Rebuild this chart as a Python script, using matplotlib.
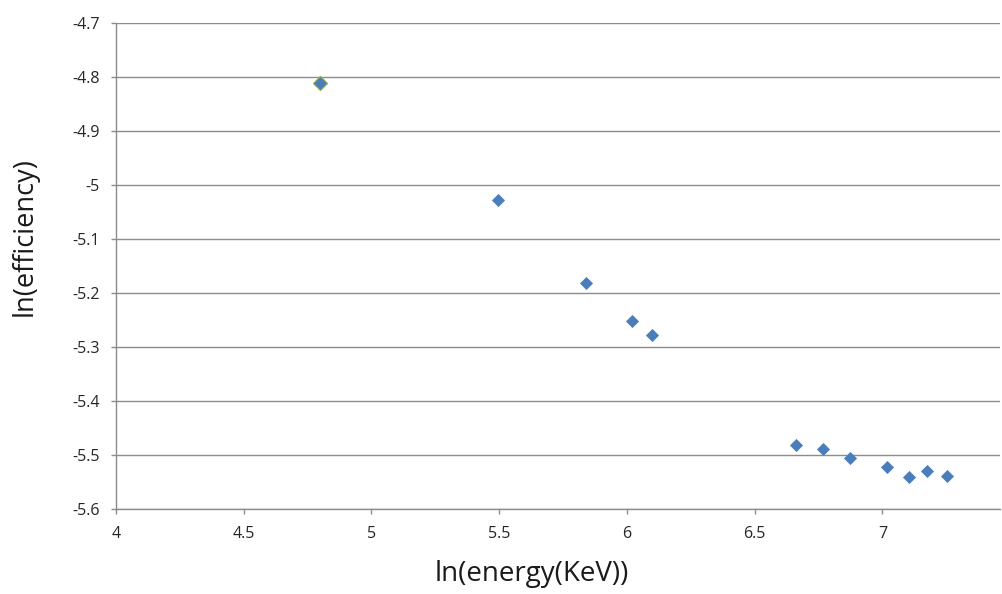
import matplotlib
matplotlib.use("Agg")
import matplotlib.pyplot as plt

# Data
ln_energy = [4.798, 5.494, 5.839, 6.019, 6.097, 6.660, 6.767, 6.873, 7.016, 7.104, 7.174, 7.254]
ln_eff = [-4.811, -5.028, -5.181, -5.252, -5.278, -5.481, -5.488, -5.505, -5.523, -5.541, -5.530, -5.538]

# second (hidden) series showing as a green outline under the first point
ln_energy_2 = [4.798]
ln_eff_2 = [-4.811]

x_ticks = [4, 4.5, 5, 5.5, 6, 6.5, 7]
x_tick_labels = ["4", "4.5", "5", "5.5", "6", "6.5", "7"]
y_ticks = [-5.6, -5.5, -5.4, -5.3, -5.2, -5.1, -5.0, -4.9, -4.8, -4.7]
y_tick_labels = ["-5.6", "-5.5", "-5.4", "-5.3", "-5.2", "-5.1", "-5", "-4.9", "-4.8", "-4.7"]

plt.rcParams['font.family'] = ['Open Sans', 'DejaVu Sans']

W, H = 1003, 594
fig = plt.figure(figsize=(W / 100, H / 100), dpi=100)
L, R, T, B = 116, 1000, 23, 509
ax = fig.add_axes([L / W, 1 - B / H, (R - L) / W, (B - T) / H])

grid_col = '#8c8c8c'
ax.set_xlim(4, 7.46)
ax.set_ylim(-5.6, -4.7)
ax.set_xticks(x_ticks)
ax.set_xticklabels(x_tick_labels)
ax.set_yticks(y_ticks)
ax.set_yticklabels(y_tick_labels)
ax.yaxis.grid(True, color=grid_col, linewidth=1.0)
ax.xaxis.grid(False)
ax.set_axisbelow(True)
for s in ['top', 'right']:
    ax.spines[s].set_visible(False)
for s in ['left', 'bottom']:
    ax.spines[s].set_color(grid_col)
    ax.spines[s].set_linewidth(1.0)
ax.tick_params(axis='both', direction='out', length=3.5, width=1.0, color=grid_col,
               labelsize=11.5, labelcolor='#262626')
ax.tick_params(axis='x', pad=9)
ax.tick_params(axis='y', pad=8)

ax.plot(ln_energy_2, ln_eff_2, linestyle='none', marker='D', markersize=7.2,
        markerfacecolor='#9BBB59', markeredgecolor='#9BBB59', clip_on=False, zorder=3)
ax.plot(ln_energy, ln_eff, linestyle='none', marker='D', markersize=6.5,
        markerfacecolor='#4A7EBB', markeredgecolor='#4F81BD', markeredgewidth=0.6,
        clip_on=False, zorder=4)

fig.text(532 / W, 6 / H, 'ln(energy(KeV))', ha='center', va='bottom',
         fontsize=20, color='#1a1a1a')
fig.text(25 / W, 1 - 237 / H, 'ln(efficiency)', ha='center', va='center',
         rotation=90, fontsize=19.5, color='#1a1a1a')

fig.savefig('out.png', dpi=100)
